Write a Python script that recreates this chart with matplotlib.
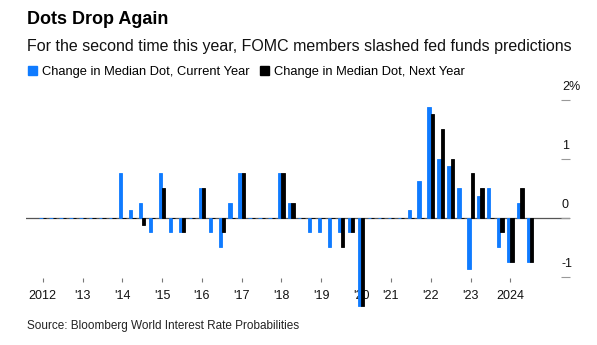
import numpy as np
import matplotlib
matplotlib.use("Agg")
import matplotlib.pyplot as plt
from matplotlib.patches import Patch
from matplotlib.transforms import offset_copy

plt.rcParams["font.family"] = ["Liberation Sans", "DejaVu Sans"]

# SEP meetings (quarterly; no March 2020 projections)
quarters = {2012: 4, 2013: 4, 2014: 4, 2015: 4, 2016: 4, 2017: 4, 2018: 4,
            2019: 4, 2020: 3, 2021: 4, 2022: 4, 2023: 4, 2024: 3}
meetings = [f"{y}-{k}" for y, n in quarters.items() for k in range(n)]

year_labels = ["2012", "'13", "'14", "'15", "'16", "'17", "'18", "'19",
               "'20", "'21", "'22", "'23", "2024"]

current_year = [0, 0, 0, 0,
                0, 0, 0, 0,
                0.75, 0.125, 0.25, -0.25,
                0.75, -0.25, -0.25, 0,
                0.5, -0.25, -0.5, 0.25,
                0.75, 0, 0, 0,
                0.75, 0.25, 0, -0.25,
                -0.25, -0.5, -0.25, -0.25,
                -1.5, 0, 0,
                0, 0, 0.125, 0.625,
                1.875, 1.0, 0.875, 0.5,
                -0.875, 0.375, 0.5, -0.5,
                -0.75, 0.25, -0.75]

next_year = [0, 0, 0, 0,
             0, 0, 0, 0,
             0, 0, -0.125, 0,
             0.5, 0, -0.25, 0,
             0.5, 0, -0.25, 0,
             0.75, 0, 0, 0,
             0.75, 0.25, 0, 0,
             0, 0, -0.5, -0.25,
             -1.5, 0, 0,
             0, 0, 0, 0,
             1.75, 1.5, 1.0, 0,
             0.75, 0.5, 0, -0.25,
             -0.75, 0.5, -0.75]

y_ticks = [2, 1, 0, -1]
y_labels = ["2%", "1", "0", "-1"]

blue = "#0f7bff"
black = "#000000"

fig = plt.figure(figsize=(5.97, 3.45), dpi=100)
ax = fig.add_axes([26 / 597, 1 - 281.5 / 345, (570 - 26) / 597, (281.5 - 95) / 345])

x = np.arange(len(meetings))
w = 0.33
ax.axhline(0, color="#555555", lw=0.9, zorder=1)
ax.bar(x - w / 2, current_year, width=w, color=blue, edgecolor=blue, lw=0.6,
       zorder=2, clip_on=False)
ax.bar(x + w / 2, next_year, width=w, color=black, edgecolor=black, lw=0.6,
       zorder=2, clip_on=False)

ax.set_xlim(-1.68, 53.0)
ax.set_ylim(-1.081, 2.08)

# x ticks at first meeting of each year
firsts = [meetings.index(f"{y}-0") for y in quarters]
ax.set_xticks(firsts)
ax.set_xticklabels(year_labels, fontsize=9)
ax.tick_params(axis="x", direction="in", length=3, width=0.8, color="#777777",
               pad=6, labelcolor="#111111")

ax.yaxis.tick_right()
ax.set_yticks(y_ticks)
ax.tick_params(axis="y", direction="in", length=6.5, width=0.8, color="#999999",
               labelright=False)
trans = offset_copy(ax.get_yaxis_transform(), fig=fig, x=-8, y=12.5, units="dots")
for v, lab in zip(y_ticks, y_labels):
    ax.text(1.0, v, lab, transform=trans, ha="left", va="center", fontsize=9,
            color="#111111")

for s in ax.spines.values():
    s.set_visible(False)

fig.text(27 / 597, 1 - 20 / 345, "Dots Drop Again", fontsize=13, weight="bold",
         va="center", ha="left")
fig.text(27 / 597, 1 - 47 / 345,
         "For the second time this year, FOMC members slashed fed funds predictions",
         fontsize=11.5, va="center", ha="left", color="#111111")

handles = [Patch(color=blue, label="Change in Median Dot, Current Year"),
           Patch(color=black, label="Change in Median Dot, Next Year")]
fig.legend(handles=handles, loc="center left", bbox_to_anchor=(28 / 597, 1 - 72 / 345),
           ncol=2, frameon=False, fontsize=9.3, handlelength=0.7, handleheight=0.7,
           handletextpad=0.4, columnspacing=0.8, borderpad=0, borderaxespad=0)

fig.text(27 / 597, 1 - 326 / 345, "Source: Bloomberg World Interest Rate Probabilities",
         fontsize=8.5, va="center", ha="left", color="#222222")

fig.savefig("out.png", dpi=100)
